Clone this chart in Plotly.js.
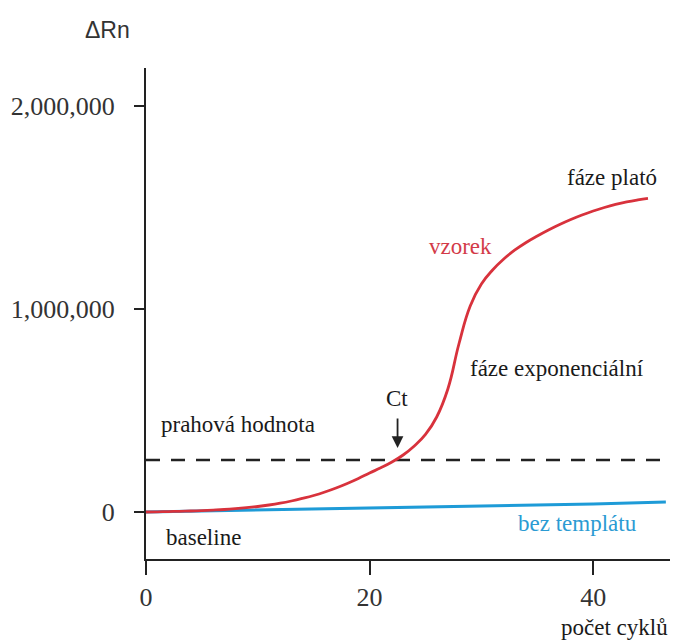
<!DOCTYPE html>
<html>
<head>
<meta charset="utf-8">
<script src="https://cdn.plot.ly/plotly-3.0.1.min.js"></script>
<style>html,body{margin:0;padding:0;background:#fff;}#chart{width:676px;height:643px;}</style>
</head>
<body>
<div id="chart"></div>
<script>
// Sample (vzorek) amplification curve, read once per cycle
const sampleCycles = [0, 1, 2, 3, 4, 5, 6, 7, 8, 9, 10, 11, 12, 13, 14, 15, 16, 17, 18, 19, 20, 21, 22, 23, 24, 25, 26, 27, 28, 29, 30, 31, 32, 33, 34, 35, 36, 37, 38, 39, 40, 41, 42, 43, 44, 44.9];
const sampleRn = [0, 1000, 2000, 3400, 4900, 6900, 9400, 12300, 16300, 21200, 27100, 34500, 43300, 54200, 67000, 81300, 98500, 118200, 140400, 165000, 192100, 217700, 246300, 280800, 325100, 381800, 468000, 606000, 830000, 1015000, 1123000, 1192100, 1246300, 1290600, 1327600, 1359600, 1389200, 1416300, 1440900, 1463100, 1482800, 1500000, 1514800, 1527100, 1536900, 1544300];
// No-template control (bez templátu)
const ntcCycles = [0, 10, 20, 30, 40, 46.5];
const ntcRn = [0, 10000, 18000, 29000, 39000, 49000];
// Threshold (prahová hodnota)
const thresholdCycles = [0, 46.4];
const thresholdRn = [256000, 256000];
// Axis ticks
const xTickVals = [0, 20, 40];
const xTickText = ['0', '20', '40'];
const yTickVals = [0, 1000000, 2000000];
const yTickText = ['0', '1,000,000', '2,000,000'];

const serif = 'Liberation Serif, Times New Roman, serif';
const annFont = {family: serif, size: 23, color: '#1a1a1a'};

const traces = [
  {x: thresholdCycles, y: thresholdRn, mode: 'lines', line: {color: '#222', width: 2.5, dash: '14px,11px'}, hoverinfo: 'skip'},
  {x: ntcCycles, y: ntcRn, mode: 'lines', line: {color: '#1e9bd7', width: 3}, hoverinfo: 'skip'},
  {x: sampleCycles, y: sampleRn, mode: 'lines', line: {color: '#d8323c', width: 2.8, shape: 'spline', smoothing: 1.3}, hoverinfo: 'skip'}
];

const layout = {
  width: 676, height: 643,
  margin: {l: 146, r: 6, t: 68, b: 84, pad: 0},
  paper_bgcolor: '#fff', plot_bgcolor: '#fff',
  showlegend: false,
  xaxis: {
    range: [0, 46.87], showgrid: false, zeroline: false,
    showline: true, linecolor: '#222', linewidth: 2,
    ticks: 'outside', ticklen: 14, tickwidth: 2, tickcolor: '#222',
    tickvals: xTickVals, ticktext: xTickText,
    tickfont: {family: serif, size: 26, color: '#333'},
    ticklabelstandoff: 0
  },
  yaxis: {
    range: [-231500, 2187000], showgrid: false, zeroline: false,
    showline: true, linecolor: '#222', linewidth: 2,
    ticks: 'outside', ticklen: 10, tickwidth: 2, tickcolor: '#222',
    tickvals: yTickVals, ticktext: yTickText,
    tickfont: {family: serif, size: 26, color: '#333'},
    ticklabelstandoff: 14
  },
  annotations: [
    {x: -0.0744, y: 1.0774, xref: 'paper', yref: 'paper', text: 'ΔRn', showarrow: false, xanchor: 'center', yanchor: 'middle', font: {family: 'Liberation Sans, Arial, sans-serif', size: 23, color: '#333'}},
    {x: 0.895, y: -0.1405, xref: 'paper', yref: 'paper', text: 'počet cyklů', showarrow: false, xanchor: 'center', yanchor: 'middle', font: annFont},
    {x: 41.68, y: 1650000, xref: 'x', yref: 'y', text: 'fáze plató', showarrow: false, xanchor: 'center', yanchor: 'middle', font: annFont},
    {x: 28.09, y: 1310000, xref: 'x', yref: 'y', text: 'vzorek', showarrow: false, xanchor: 'center', yanchor: 'middle', font: {family: serif, size: 23, color: '#d33a48'}},
    {x: 36.76, y: 709000, xref: 'x', yref: 'y', text: 'fáze exponenciální', showarrow: false, xanchor: 'center', yanchor: 'middle', font: annFont},
    {x: 22.45, y: 557000, xref: 'x', yref: 'y', text: 'Ct', showarrow: false, xanchor: 'center', yanchor: 'middle', font: annFont},
    {x: 22.5, y: 315000, xref: 'x', yref: 'y', text: '', showarrow: true, arrowhead: 2, arrowsize: 1.3, arrowwidth: 1.8, arrowcolor: '#222', ax: 0, ay: -31},
    {x: 8.23, y: 428600, xref: 'x', yref: 'y', text: 'prahová hodnota', showarrow: false, xanchor: 'center', yanchor: 'middle', font: annFont},
    {x: 5.1, y: -128000, xref: 'x', yref: 'y', text: 'baseline', showarrow: false, xanchor: 'center', yanchor: 'middle', font: annFont},
    {x: 38.6, y: -59000, xref: 'x', yref: 'y', text: 'bez templátu', showarrow: false, xanchor: 'center', yanchor: 'middle', font: {family: serif, size: 23, color: '#2b9bd3'}}
  ]
};

Plotly.newPlot('chart', traces, layout, {staticPlot: true, displayModeBar: false});
</script>
</body>
</html>
